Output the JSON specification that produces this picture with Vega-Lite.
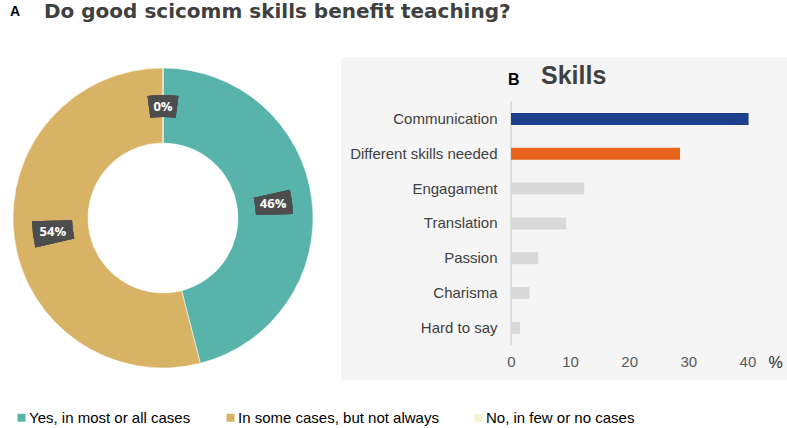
{
  "$schema": "https://vega.github.io/schema/vega-lite/v6.json",
  "padding": {"top": 2, "left": 0, "right": 0, "bottom": 0},
  "background": "white",
  "bounds": "flush",
  "spacing": 15,
  "resolve": {"scale": {"color": "independent"}, "legend": {"color": "independent"}},
  "title": {"text": "A", "anchor": "start", "frame": "group", "dx": 10, "offset": -28, "fontSize": 14, "fontWeight": "bold", "color": "#000000", "font": "Liberation Sans", "baseline": "alphabetic"},
  "config": {"view": {"stroke": null}, "font": "Liberation Sans"},
  "hconcat": [
    {
      "width": 326,
      "height": 322,
      "title": {"text": "Do good scicomm skills benefit teaching?", "anchor": "start", "frame": "group", "dx": 44, "offset": 19, "fontSize": 20, "fontWeight": "bold", "color": "#404040", "font": "DejaVu Sans", "baseline": "alphabetic"},
      "data": {"values": [
        {"answer": "Yes, in most or all cases", "share": 0.46, "order": 1},
        {"answer": "In some cases, but not always", "share": 0.54, "order": 2},
        {"answer": "No, in few or no cases", "share": 0.0, "order": 3}
      ]},
      "layer": [
        {
          "mark": {"type": "arc", "innerRadius": 75, "outerRadius": 150, "stroke": "#ffffff", "strokeWidth": 0.5},
          "encoding": {
            "theta": {"field": "share", "type": "quantitative", "stack": true, "scale": {"domain": [0, 1]}},
            "order": {"field": "order", "type": "quantitative"},
            "color": {"field": "answer", "type": "nominal",
              "scale": {"domain": ["Yes, in most or all cases", "In some cases, but not always", "No, in few or no cases"], "range": ["#58b4aa", "#d8b365", "#f7f2cc"]},
              "legend": {"orient": "none", "legendX": 14, "legendY": 353, "direction": "horizontal", "title": null, "symbolType": "square", "symbolSize": 64, "symbolStrokeWidth": 0, "labelFontSize": 15, "labelFont": "Liberation Sans", "labelColor": "#000000", "columnPadding": 32, "labelOffset": 0, "labelLimit": 400, "padding": 0}
            }
          }
        },
        {
          "mark": {"type": "arc", "innerRadius": 93, "outerRadius": 130, "color": "#4d4d4d"},
          "encoding": {"theta": {"datum": 0.215}, "theta2": {"datum": 0.245}}
        },
        {
          "mark": {"type": "arc", "innerRadius": 91, "outerRadius": 131, "color": "#4d4d4d"},
          "encoding": {"theta": {"datum": 0.714}, "theta2": {"datum": 0.746}}
        },
        {
          "mark": {"type": "arc", "innerRadius": 101, "outerRadius": 123, "color": "#4d4d4d"},
          "encoding": {"theta": {"datum": 0.98}, "theta2": {"datum": 1.02}}
        },
        {
          "mark": {"type": "text", "radius": 111, "color": "#ffffff", "fontSize": 13, "fontWeight": "bold", "font": "Open Sans", "align": "center", "baseline": "middle"},
          "encoding": {
            "theta": {"field": "share", "type": "quantitative", "stack": true},
            "order": {"field": "order", "type": "quantitative"},
            "text": {"field": "share", "type": "quantitative", "format": ".0%"}
          }
        }
      ]
    },
    {
      "width": 446,
      "height": 323,
      "view": {"fill": "#f5f5f5", "stroke": null},
      "title": {"text": "Skills", "anchor": "start", "frame": "group", "dx": 200, "offset": -52, "fontSize": 25, "fontWeight": "bold", "color": "#404040", "font": "Liberation Sans", "baseline": "alphabetic"},
      "data": {"values": [
        {"skill": "Communication", "pct": 40.2},
        {"skill": "Different skills needed", "pct": 28.6},
        {"skill": "Engagament", "pct": 12.4},
        {"skill": "Translation", "pct": 9.3},
        {"skill": "Passion", "pct": 4.6},
        {"skill": "Charisma", "pct": 3.1},
        {"skill": "Hard to say", "pct": 1.5}
      ]},
      "encoding": {
        "y": {"field": "skill", "type": "nominal", "sort": null,
          "scale": {"domain": ["Communication", "Different skills needed", "Engagament", "Translation", "Passion", "Charisma", "Hard to say"], "range": [44.5, 288.3], "paddingInner": 0, "paddingOuter": 0},
          "axis": {"orient": "left", "offset": -170, "title": null, "ticks": false, "domain": false, "grid": false, "labelPadding": 14, "labelFontSize": 15, "labelColor": "#404040", "labelFont": "Liberation Sans", "labelLimit": 300}
        }
      },
      "layer": [
        {
          "data": {"values": [{}]},
          "mark": {"type": "rule", "color": "#d4d4d4", "strokeWidth": 1.5},
          "encoding": {
            "x": {"datum": 0, "type": "quantitative"},
            "y": {"datum": "Communication", "type": "nominal", "bandPosition": 0},
            "y2": {"datum": "Hard to say", "bandPosition": 1}
          }
        },
        {
          "mark": {"type": "bar", "size": 12},
          "encoding": {
            "x": {"field": "pct", "type": "quantitative",
              "scale": {"domain": [-28.77, 46.7], "nice": false, "zero": false},
              "axis": {"values": [0, 10, 20, 30, 40], "offset": -29, "domain": false, "ticks": false, "grid": false, "labelPadding": 3, "labelFontSize": 15, "labelColor": "#595959", "labelFont": "Liberation Sans", "title": "%", "titleX": 434, "titleY": 3, "titleBaseline": "top", "titleAlign": "center", "titleFontSize": 16, "titleFontWeight": "normal", "titleColor": "#262626", "titleFont": "Liberation Sans"}
            },
            "x2": {"datum": 0},
            "color": {"field": "skill", "type": "nominal",
              "scale": {"domain": ["Communication", "Different skills needed", "Engagament", "Translation", "Passion", "Charisma", "Hard to say"], "range": ["#1e3f8c", "#e8641b", "#d9d9d9", "#d9d9d9", "#d9d9d9", "#d9d9d9", "#d9d9d9"]},
              "legend": null
            }
          }
        },
        {
          "data": {"values": [{"tag": "B"}]},
          "mark": {"type": "text", "fontSize": 16, "fontWeight": "bold", "color": "#000000", "align": "center", "baseline": "middle", "dy": -39},
          "encoding": {
            "x": {"datum": 0.45, "type": "quantitative"},
            "y": {"datum": "Communication", "type": "nominal"},
            "text": {"field": "tag"}
          }
        }
      ]
    }
  ]
}
